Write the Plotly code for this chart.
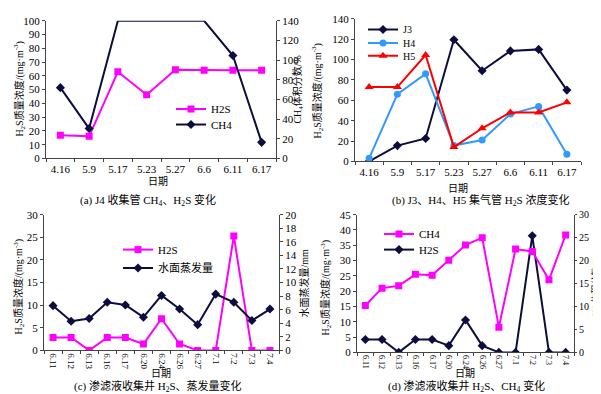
import plotly.graph_objects as go

# ---------------- data ----------------
dates_ab = ["4.16", "5.9", "5.17", "5.23", "5.27", "6.6", "6.11", "6.17"]
a_h2s = [16.8, 16.1, 63, 46.3, 64.5, 64, 64, 64]
a_ch4 = [72, 30.4, 140, 140, 140, 140, 104.7, 16.4]

b_j3 = [0, 15.5, 22.5, 119.5, 89, 108.5, 110, 70]
b_h4 = [3, 66, 86, 15.5, 21, 46.5, 54, 7]
b_h5 = [73, 73, 104.5, 14, 32.5, 48, 48, 58]

dates_cd = ["6.11", "6.12", "6.13", "6.16", "6.17", "6.20", "6.24",
            "6.26", "6.27", "7.1", "7.2", "7.3", "7.4"]
c_h2s = [2.86, 2.86, 0, 2.86, 2.86, 1.43, 7.0, 1.43, 0, 0, 25.3, 0, 0]
c_evap = [6.6, 4.3, 4.7, 7.1, 6.7, 4.9, 8.1, 6.1, 3.8, 8.3, 7.1, 4.4, 6.1]

d_ch4 = [10.2, 14.0, 14.5, 17.0, 16.8, 20.1, 23.4, 25.0, 5.5, 22.5, 22.0, 15.8, 25.6]
d_h2s = [4.2, 4.2, 0, 4.2, 4.2, 2.2, 10.6, 2.2, 0, 0, 38.1, 0, 0]

# ---------------- style ----------------
W, H = 601, 394
MAG = "#FF00FF"
NAVY = "#0d0d3d"
BLUE = "#3399FF"
RED = "#FF0000"
SERIF = "Liberation Serif, Noto Sans CJK SC"
AX = "#444444"
CLEAR = "rgba(0,0,0,0)"


def px(x):
    return x / W


def py(y):
    return 1 - y / H


fig = go.Figure()

# (a)
fig.add_trace(go.Scatter(x=dates_ab, y=a_h2s, name="H2S", xaxis="x", yaxis="y",
                         mode="lines+markers", line=dict(color=MAG, width=2),
                         marker=dict(symbol="square", size=7, color=MAG), legend="legend"))
fig.add_trace(go.Scatter(x=dates_ab, y=a_ch4, name="CH4", xaxis="x", yaxis="y2",
                         mode="lines+markers", line=dict(color=NAVY, width=2),
                         marker=dict(symbol="diamond", size=7,
                                     color=[NAVY, NAVY, CLEAR, CLEAR, CLEAR, CLEAR, NAVY, NAVY],
                                     line=dict(width=0)),
                         legend="legend2"))
# (b)
fig.add_trace(go.Scatter(x=dates_ab, y=b_j3, name="J3", xaxis="x2", yaxis="y3",
                         mode="lines+markers", line=dict(color=NAVY, width=2),
                         marker=dict(symbol="diamond", size=7, color=NAVY), legend="legend3"))
fig.add_trace(go.Scatter(x=dates_ab, y=b_h4, name="H4", xaxis="x2", yaxis="y3",
                         mode="lines+markers", line=dict(color=BLUE, width=2),
                         marker=dict(symbol="circle", size=7, color=BLUE), legend="legend4"))
fig.add_trace(go.Scatter(x=dates_ab, y=b_h5, name="H5", xaxis="x2", yaxis="y3",
                         mode="lines+markers", line=dict(color=RED, width=2),
                         marker=dict(symbol="triangle-up", size=8, color=RED), legend="legend5"))
# (c)
fig.add_trace(go.Scatter(x=dates_cd, y=c_h2s, name="H2S", xaxis="x3", yaxis="y4",
                         mode="lines+markers", line=dict(color=MAG, width=2),
                         marker=dict(symbol="square", size=7, color=MAG), legend="legend6"))
fig.add_trace(go.Scatter(x=dates_cd, y=c_evap, name="水面蒸发量", xaxis="x3", yaxis="y5",
                         mode="lines+markers", line=dict(color=NAVY, width=2),
                         marker=dict(symbol="diamond", size=7, color=NAVY), legend="legend7"))
# (d)
fig.add_trace(go.Scatter(x=dates_cd, y=d_ch4, name="CH4", xaxis="x4", yaxis="y7",
                         mode="lines+markers", line=dict(color=MAG, width=2),
                         marker=dict(symbol="square", size=7, color=MAG), legend="legend8"))
fig.add_trace(go.Scatter(x=dates_cd, y=d_h2s, name="H2S", xaxis="x4", yaxis="y6",
                         mode="lines+markers", line=dict(color=NAVY, width=2),
                         marker=dict(symbol="diamond", size=7, color=NAVY), legend="legend9"))


def xax(domain, anchor, n, angle=0, size=11):
    return dict(domain=domain, anchor=anchor, type="category", range=[-0.5, n - 0.5],
                showline=True, linecolor=AX, linewidth=1, ticks="outside", ticklen=3,
                tickcolor=AX, tickson="boundaries", tickangle=angle,
                tickfont=dict(family=SERIF, size=size, color="black"),
                showgrid=False, zeroline=False, fixedrange=True)


def yax(domain, anchor, rng, dtick, side="left", overlaying=None, size=11, ticklen=3):
    d = dict(domain=domain, anchor=anchor, range=rng, dtick=dtick, side=side,
             showline=True, linecolor=AX, linewidth=1, ticks="outside", ticklen=ticklen,
             tickcolor=AX, tickfont=dict(family=SERIF, size=size, color="black"),
             showgrid=False, zeroline=False, fixedrange=True)
    if overlaying:
        d["overlaying"] = overlaying
    return d


dom_ax = [px(38), px(268)]
dom_ay = [py(149), py(7)]
dom_bx = [px(347), px(573)]
dom_by = [py(152), py(5)]
dom_cx = [px(36), px(271)]
dom_cy = [py(347), py(207)]
dom_dx = [px(349), px(566)]
dom_dy = [py(349), py(207)]


def leg(x, y, size=11):
    return dict(x=px(x), y=py(y), xanchor="left", yanchor="middle",
                bgcolor="rgba(0,0,0,0)", borderwidth=0, itemwidth=30,
                font=dict(family=SERIF, size=size, color="black"))


fig.update_layout(
    width=W, height=H, margin=dict(l=0, r=0, t=0, b=0),
    paper_bgcolor="white", plot_bgcolor="white", showlegend=True,
    xaxis=xax(dom_ax, "y", 8),
    yaxis=yax(dom_ay, "x", [0, 100], 10),
    yaxis2=yax(dom_ay, "x", [0, 140], 20, side="right", overlaying="y"),
    xaxis2=xax(dom_bx, "y3", 8),
    yaxis3=yax(dom_by, "x2", [0, 140], 20),
    xaxis3=xax(dom_cx, "y4", 13, angle=90, size=9),
    yaxis4=yax(dom_cy, "x3", [0, 30], 5),
    yaxis5=yax(dom_cy, "x3", [0, 20], 2, side="right", overlaying="y4"),
    xaxis4=xax(dom_dx, "y6", 13, angle=90, size=8),
    yaxis6=yax(dom_dy, "x4", [0, 45], 5),
    yaxis7=yax(dom_dy, "x4", [0, 30], 5, side="right", overlaying="y6", size=10, ticklen=2),
    legend=leg(163, 98),
    legend2=leg(163, 114),
    legend3=leg(355, 16, 10),
    legend4=leg(355, 30, 10),
    legend5=leg(355, 43, 10),
    legend6=leg(110, 243),
    legend7=leg(110, 262),
    legend8=leg(371, 227),
    legend9=leg(371, 243),
)

ann = []


def text(x, y, s, size=11, angle=0):
    ann.append(dict(x=px(x), y=py(y), xref="paper", yref="paper", text=s,
                    showarrow=False, textangle=angle, xanchor="center", yanchor="middle",
                    font=dict(family=SERIF, size=size, color="black")))


ytitle = "H<sub>2</sub>S质量浓度/(mg·m<sup>-3</sup>)"
text(11, 78, ytitle, 10, -90)
text(290, 78, "CH<sub>4</sub>体积分数/%", 10, -90)
text(150, 173, "日期", 10)
text(140, 192, "(a) J4 收集管 CH<sub>4</sub>、H<sub>2</sub>S 变化", 11)

text(309, 80, ytitle, 10, -90)
text(450, 180, "日期", 10)
text(472, 192, "(b) J3、H4、H5 集气管 H<sub>2</sub>S 浓度变化", 11)

text(11, 282, ytitle, 10, -90)
text(296, 278, "水面蒸发量/mm", 10, -90)
text(153, 371, "日期", 10)
text(150, 384, "(c) 渗滤液收集井 H<sub>2</sub>S、蒸发量变化", 11)

text(318, 283, ytitle, 10, -90)
text(588, 282, "CH<sub>4</sub>体积分数/%", 9, -90)
text(457, 371, "日期", 10)
text(458, 384, "(d) 渗滤液收集井 H<sub>2</sub>S、CH<sub>4</sub> 变化", 11)

fig.update_layout(annotations=ann)

fig.write_html("out.html")
